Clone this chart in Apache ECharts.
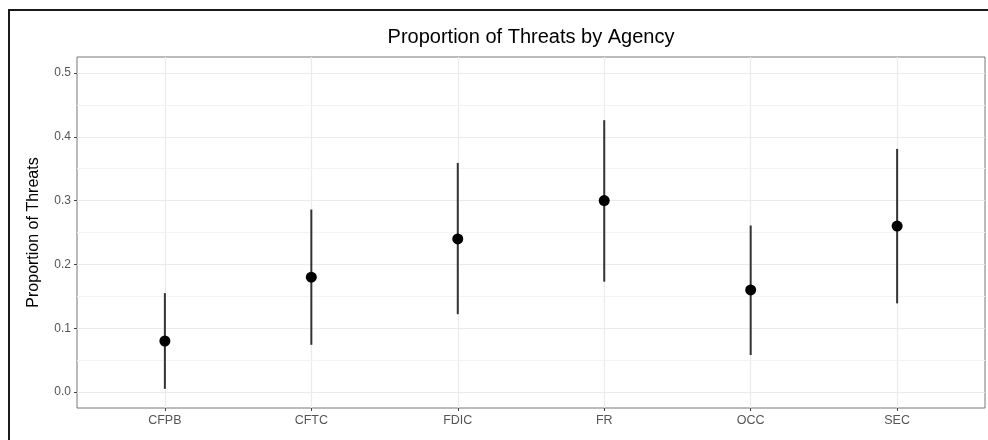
<!DOCTYPE html>
<html>
<head>
<meta charset="utf-8">
<script src="https://cdn.jsdelivr.net/npm/echarts@6/dist/echarts.min.js"></script>
<style>html,body{margin:0;padding:0;background:#fff}#c{width:988px;height:440px}</style>
</head>
<body>
<div id="c"></div>
<script>
const categories = ['CFPB', 'CFTC', 'FDIC', 'FR', 'OCC', 'SEC'];
const proportion = [0.08, 0.18, 0.24, 0.30, 0.16, 0.26];
const lower = [0.005, 0.074, 0.122, 0.173, 0.058, 0.139];
const upper = [0.155, 0.286, 0.359, 0.426, 0.261, 0.381];
const yTicks = [0, 0.1, 0.2, 0.3, 0.4, 0.5];
const yMinor = [0.05, 0.15, 0.25, 0.35, 0.45];
const xTicks = [1, 2, 3, 4, 5, 6];

const FONT = '"Liberation Sans", Arial, sans-serif';
const chart = echarts.init(document.getElementById('c'), null, {renderer: 'canvas'});

const pointData = proportion.map((v, i) => [i + 1, v]);
const barData = lower.map((l, i) => [i + 1, l, upper[i]]);

chart.setOption({
  animation: false,
  backgroundColor: '#fff',
  title: {
    text: 'Proportion of Threats by Agency',
    left: 531, top: 27, textAlign: 'center', padding: 0,
    textStyle: {fontFamily: FONT, fontSize: 20, fontWeight: 'normal', color: '#000'}
  },
  graphic: [{
    type: 'polyline', silent: true, z: 100,
    shape: {points: [[995, 10], [9, 10], [9, 450]]},
    style: {stroke: '#1a1a1a', lineWidth: 2, fill: null}
  }],
  grid: {left: 77, right: 3, top: 57, bottom: 32, show: true, borderColor: '#777', borderWidth: 1, backgroundColor: '#fff'},
  xAxis: {
    type: 'value', min: 0.4, max: 6.6,
    axisLine: {show: false, onZero: false},
    axisTick: {show: true, length: 3, customValues: xTicks, lineStyle: {color: '#444'}},
    axisLabel: {
      customValues: xTicks, margin: 6,
      formatter: v => categories[Math.round(v) - 1] || '',
      fontFamily: FONT, fontSize: 12.5, color: '#555'
    },
    splitLine: {show: true, lineStyle: {color: '#ebebeb', width: 1.2}}
  },
  yAxis: {
    type: 'value', min: -0.025, max: 0.525,
    name: 'Proportion of Threats', nameLocation: 'middle', nameGap: 35,
    nameTextStyle: {fontFamily: FONT, fontSize: 16, color: '#000'},
    axisLine: {show: false, onZero: false},
    axisTick: {show: true, length: 3, customValues: yTicks, lineStyle: {color: '#444'}},
    axisLabel: {
      customValues: yTicks, margin: 6,
      formatter: v => v.toFixed(1),
      fontFamily: FONT, fontSize: 12, color: '#555'
    },
    splitLine: {show: true, lineStyle: {color: '#ebebeb', width: 1.2}}
  },
  series: [{
    type: 'custom',
    data: barData,
    renderItem: function (params, api) {
      const top = api.coord([api.value(0), api.value(2)]);
      const bot = api.coord([api.value(0), api.value(1)]);
      return {
        type: 'line',
        shape: {x1: top[0], y1: top[1], x2: bot[0], y2: bot[1]},
        style: {stroke: '#333', lineWidth: 2}
      };
    },
    markLine: {
      silent: true, symbol: 'none', label: {show: false},
      lineStyle: {color: '#f3f3f3', width: 1, type: 'solid'},
      z: 0,
      data: yMinor.map(v => ({yAxis: v}))
    },
    z: 2
  }, {
    type: 'scatter',
    data: pointData,
    symbol: 'circle', symbolSize: 11,
    itemStyle: {color: '#000', opacity: 1},
    z: 3
  }]
});
</script>
</body>
</html>
